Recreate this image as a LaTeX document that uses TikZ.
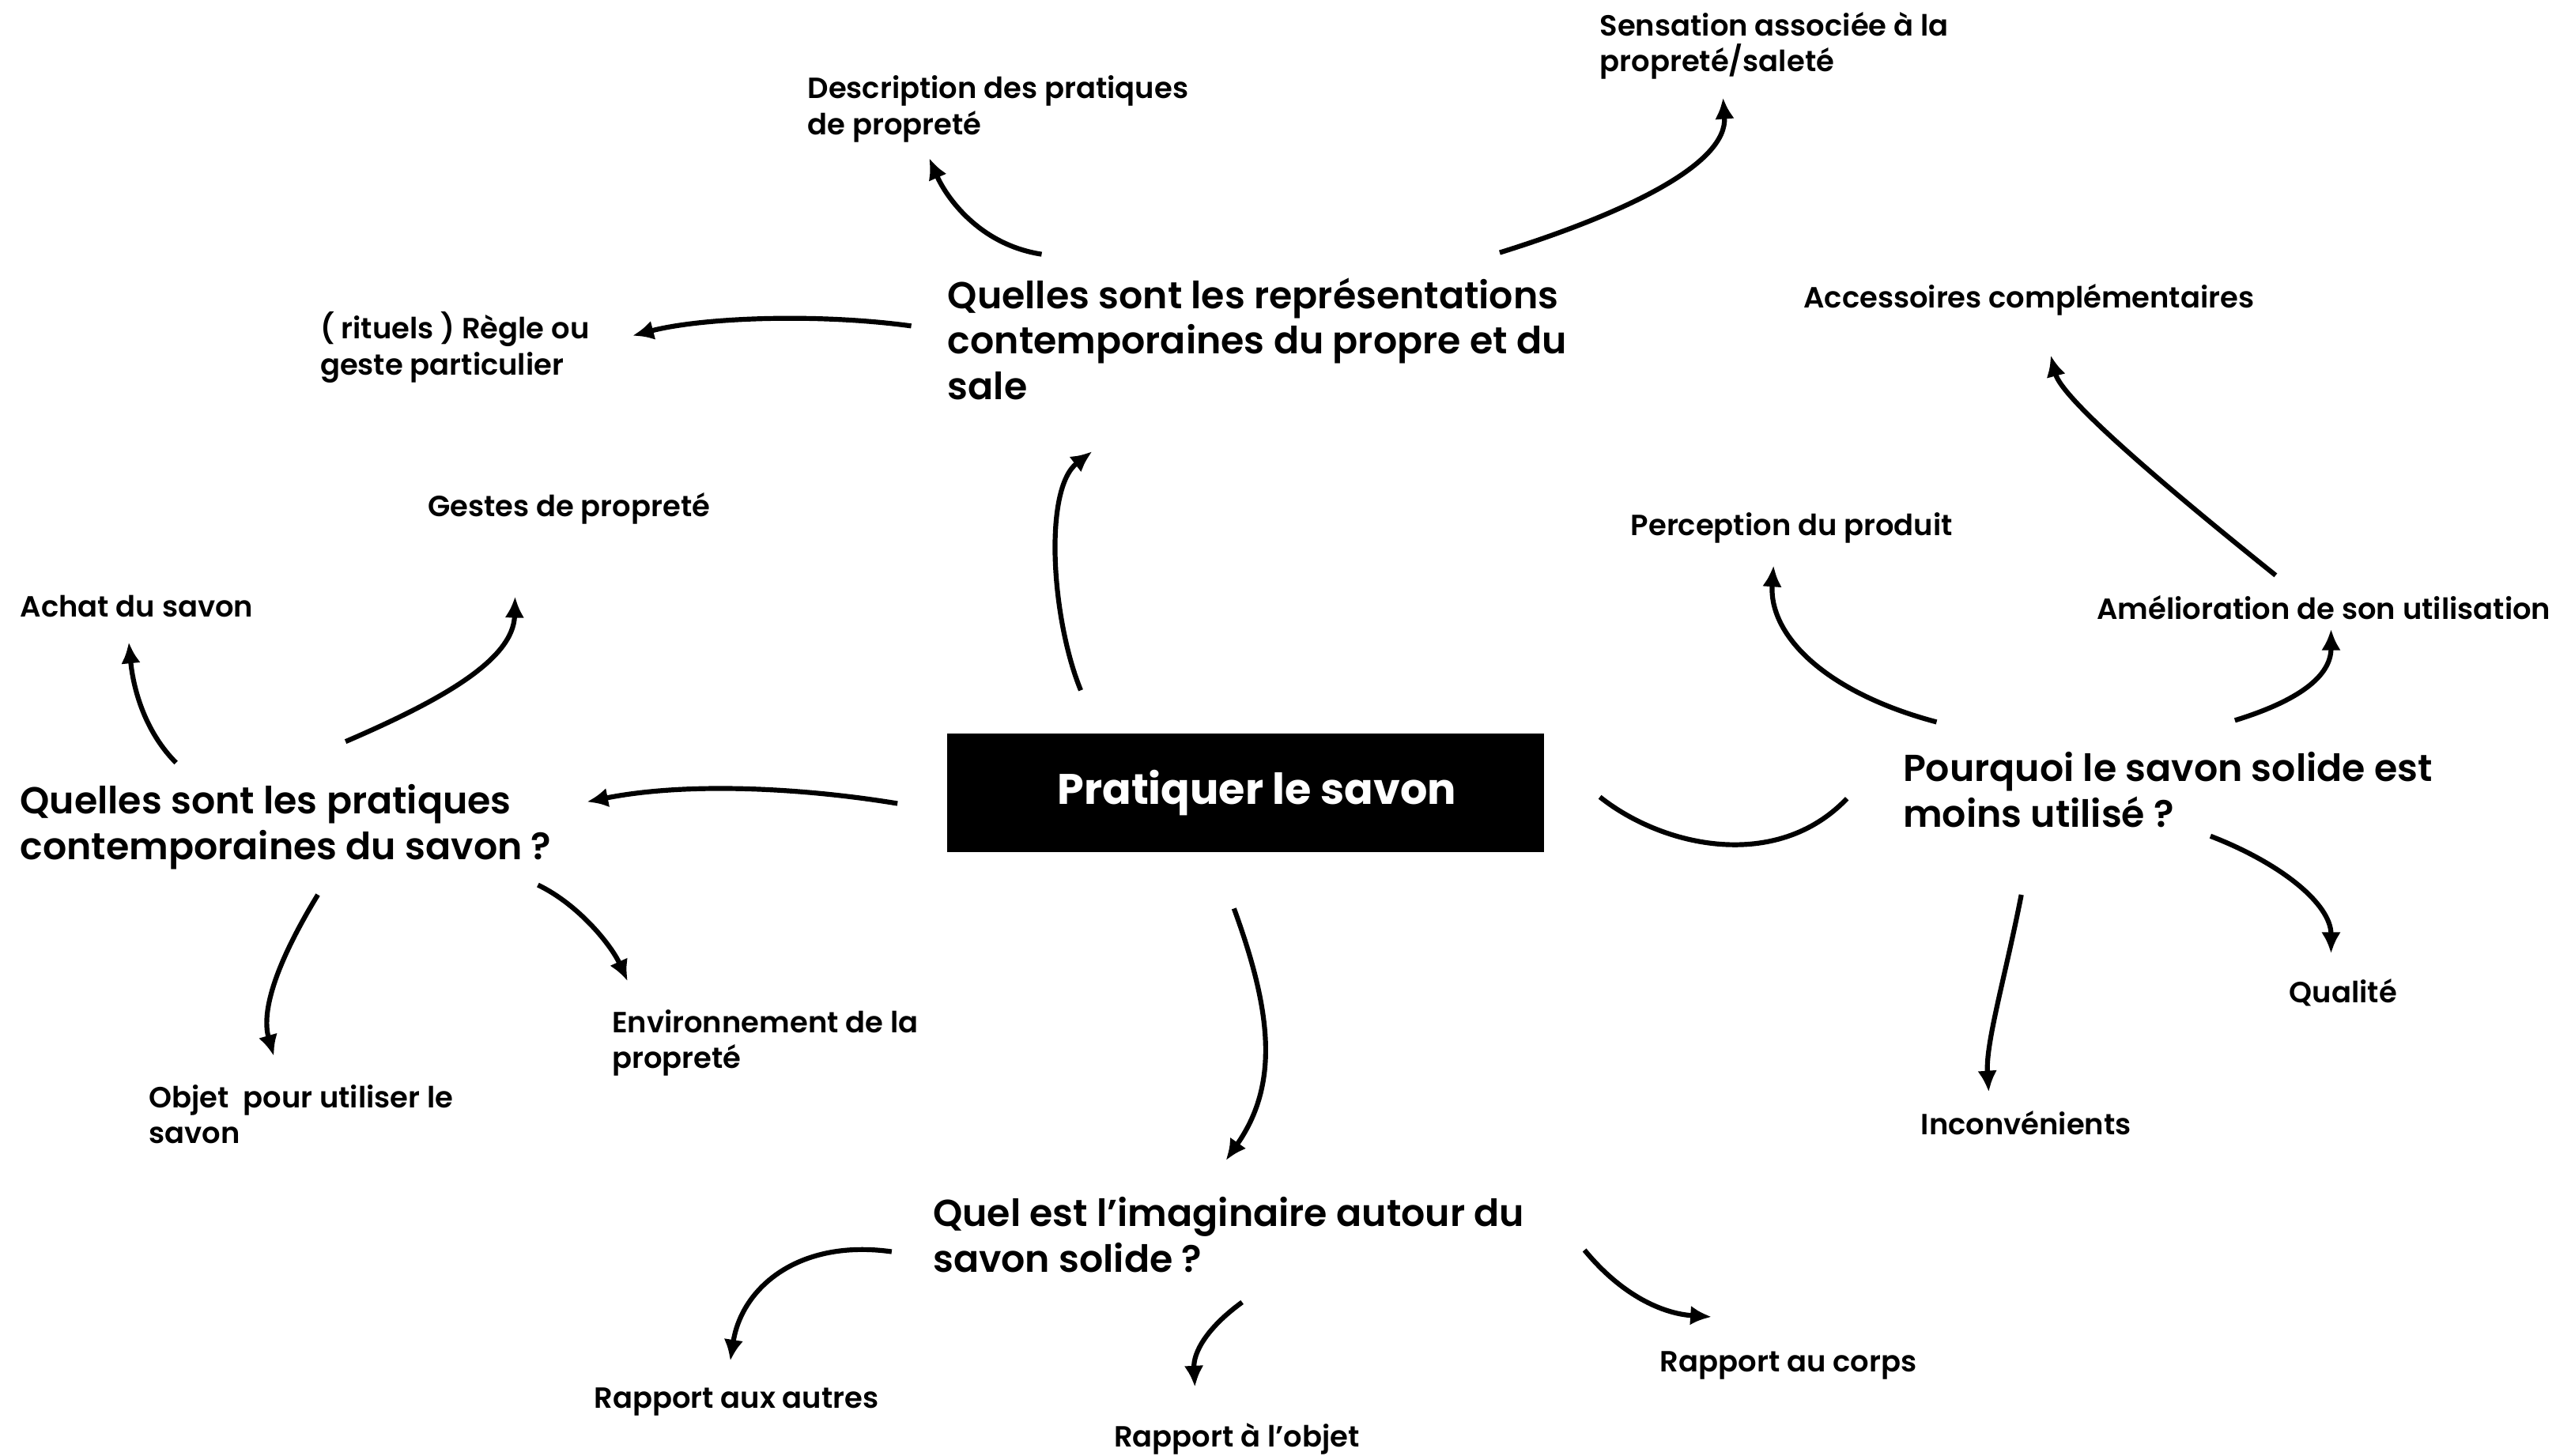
\documentclass[tikz,border=0pt]{standalone}
\usepackage{fontspec}
\setmainfont{Poppins}
\newfontfamily\semifont{Poppins SemiBold}
\usetikzlibrary{arrows.meta,calc}

\tikzset{every picture/.style={line width=0.45pt}}
\tikzset{
  leaf/.style={anchor=north west, inner sep=0pt, align=left, font=\semifont\fontsize{8.95}{11}\selectfont},
  quest/.style={anchor=north west, inner sep=0pt, align=left, font=\semifont\fontsize{11.5}{14}\selectfont},
  mainbox/.style={fill=black, text=white, inner sep=0pt, minimum width=183pt, minimum height=36.5pt, font=\bfseries\fontsize{13.1}{16}\selectfont},
  link/.style={line width=1.5pt, -{Latex[length=6.5pt,width=6pt]}},
  plain/.style={line width=1.5pt}
}

\begin{document}
\begin{tikzpicture}[x=0.5pt,y=-0.5pt]
\useasboundingbox (0,0) rectangle (1568,893);

% Main Box
\node [mainbox] (savon) at (764,486.5) {\hspace*{7pt}Pratiquer le savon};

% Text Node
\node [quest] (repr) at (581,170) {Quelles sont les représentations\\contemporaines du propre et du\\sale};
% Text Node
\node [quest] (prat) at (12,481) {Quelles sont les pratiques\\contemporaines du savon ?};
% Text Node
\node [quest] (pourq) at (1167,461) {Pourquoi le savon solide est\\moins utilisé ?};
% Text Node
\node [quest] (imag) at (572,734) {Quel est l’imaginaire autour du\\savon solide ?};

% Text Node
\node [leaf] (sens) at (981,7) {Sensation associée à la\\propreté/saleté};
% Text Node
\node [leaf] (descr) at (495,46) {Description des pratiques\\de propreté};
% Text Node
\node [leaf] (rit) at (196,191) {( rituels ) Règle ou\\geste particulier};
% Text Node
\node [leaf] (acc) at (1106,174) {Accessoires complémentaires};
% Text Node
\node [leaf] (gest) at (262,302) {Gestes de propreté};
% Text Node
\node [leaf] (perc) at (1000,314) {Perception du produit};
% Text Node
\node [leaf] (achat) at (12,365) {Achat du savon};
% Text Node
\node [leaf] (amel) at (1286,365) {Amélioration de son utilisation};
% Text Node
\node [leaf] (qual) at (1404,600) {Qualité};
% Text Node
\node [leaf] (env) at (375,619) {Environnement de la\\propreté};
% Text Node
\node [leaf] (objet) at (91,665) {Objet~ pour utiliser le\\savon};
% Text Node
\node [leaf] (inconv) at (1178,681) {Inconvénients};
% Text Node
\node [leaf] (corps) at (1018,829) {Rapport au corps};
% Text Node
\node [leaf] (autres) at (364,851) {Rapport aux autres};
% Text Node
\node [leaf] (objrap) at (683,873) {Rapport à l’objet};

%Curve Lines
\draw [link] ($(savon.north)+(-101,-26)$) .. controls +(-18,-44) and +(-30,23) .. ($(repr.north west)+(89,107)$);
\draw [link] ($(repr.north west)+(58,-14)$) .. controls +(-39,-6) and +(10,23) .. ($(descr.north west)+(75,51)$);
\draw [link] ($(repr.north west)+(339,-15)$) .. controls +(80,-25) and +(3,40) .. ($(sens.north west)+(76,53)$);
\draw [link] ($(repr.north west)+(-22,30)$) .. controls +(-59,-8) and +(42,-11) .. ($(rit.north west)+(192,15)$);
%Curve Lines
\draw [link] ($(amel.north west)+(110,-12)$) .. controls +(-66,-53) and +(7,27) .. ($(acc.north west)+(152,44)$);
\draw [link] ($(pourq.north west)+(21,-18)$) .. controls +(-68,-18) and +(-3,43) .. ($(perc.north west)+(88,33)$);
\draw [link] ($(pourq.north west)+(204,-19)$) .. controls +(39,-12) and +(0,29) .. ($(amel.north west)+(144,21)$);
\draw [plain] ($(savon.east)+(34,2.5)$) .. controls +(39,31) and +(-43,45) .. ($(pourq.north west)+(-34,29)$);
\draw [link] ($(pourq.north west)+(189,52)$) .. controls +(44,17) and +(0,-30) .. ($(qual.north west)+(26,-15)$);
\draw [link] ($(pourq.north west)+(73,88)$) .. controls +(-10,51) and +(-2,-30) .. ($(inconv.north west)+(42,-11)$);
%Curve Lines
\draw [link] ($(savon.west)+(-30,6.5)$) .. controls +(-61,-10) and +(60,-12) .. ($(prat.north west)+(348,11)$);
\draw [link] ($(prat.north west)+(96,-13)$) .. controls +(-18,-18) and +(3,31) .. ($(achat.north west)+(67,29)$);
\draw [link] ($(prat.north west)+(200,-26)$) .. controls +(58,-25) and +(-1,39) .. ($(gest.north west)+(54,64)$);
\draw [link] ($(prat.north west)+(183,68)$) .. controls +(-25,41) and +(-8,-28) .. ($(objet.north west)+(77,-17)$);
\draw [link] ($(prat.north west)+(318,62)$) .. controls +(25,12) and +(-10,-22) .. ($(env.north west)+(10,-17)$);
%Curve Lines
\draw [link] ($(savon.south)+(-7,34)$) .. controls +(23,63) and +(33,-47) .. ($(imag.north west)+(180,-22)$);
\draw [link] ($(imag.north west)+(-25,34)$) .. controls +(-57,-8) and +(7,-45) .. ($(autres.north west)+(84,-16)$);
\draw [link] ($(imag.north west)+(190,65)$) .. controls +(-22,16) and +(-1,-21) .. ($(objrap.north west)+(50,-22)$);
\draw [link] ($(imag.north west)+(400,33)$) .. controls +(23,28) and +(-30,-2) .. ($(corps.north west)+(32,-21)$);

\end{tikzpicture}
\end{document}
